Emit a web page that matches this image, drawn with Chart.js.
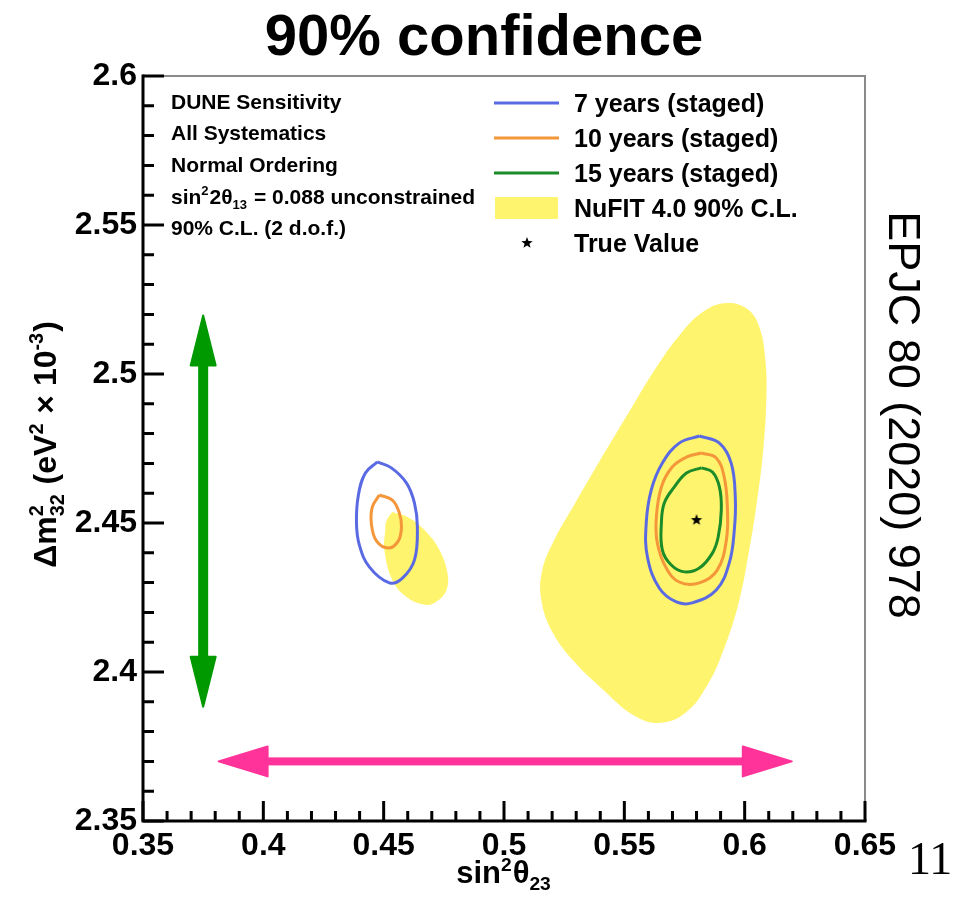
<!DOCTYPE html>
<html>
<head>
<meta charset="utf-8">
<title>DUNE sensitivity: sin²θ23 vs Δm²32</title>
<script src="https://cdn.jsdelivr.net/npm/chart.js@4.4.1/dist/chart.umd.min.js"></script>
<style>
  html, body { margin: 0; padding: 0; background: #ffffff; }
  canvas { display: block; }
</style>
</head>
<body>
<canvas id="chart" width="960" height="903"></canvas>
<script>
// ---- axis tick labels ----
const xTickLabels = ['0.35', '0.4', '0.45', '0.5', '0.55', '0.6', '0.65'];
const yTickLabels = ['2.35', '2.4', '2.45', '2.5', '2.55', '2.6'];

// ---- NuFIT 4.0 90% C.L. allowed regions: [sin²θ23, Δm²32 (10⁻³ eV²)] ----
const nufitUpperOctant = [
  [0.5512, 2.4862], [0.5625, 2.5013], [0.5737, 2.5138], [0.5832, 2.5211], [0.5924, 2.5238],
  [0.6011, 2.5218], [0.6061, 2.5158], [0.6086, 2.5047], [0.6090, 2.4913], [0.6077, 2.4745],
  [0.6052, 2.4577], [0.6019, 2.4409], [0.5978, 2.4242], [0.5920, 2.4091], [0.5845, 2.3956],
  [0.5753, 2.3862], [0.5645, 2.3829], [0.5537, 2.3856], [0.5413, 2.3940], [0.5292, 2.4034],
  [0.5201, 2.4134], [0.5155, 2.4242], [0.5159, 2.4342], [0.5209, 2.4443], [0.5296, 2.4567],
  [0.5400, 2.4711], [0.5512, 2.4862]
];
const nufitLowerOctant = [
  [0.4536, 2.4537], [0.4607, 2.4517], [0.4682, 2.4466], [0.4732, 2.4409], [0.4765, 2.4332],
  [0.4761, 2.4275], [0.4723, 2.4238], [0.4678, 2.4225], [0.4595, 2.4252], [0.4536, 2.4309],
  [0.4503, 2.4409], [0.4507, 2.4477], [0.4511, 2.4507], [0.4536, 2.4537]
];

// ---- DUNE staged-exposure 90% C.L. contours ----
const sevenYearsUpper = [
  [0.5812, 2.4792], [0.5895, 2.4768], [0.5944, 2.4701], [0.5961, 2.4587], [0.5957, 2.4477],
  [0.5936, 2.4366], [0.5882, 2.4275], [0.5782, 2.4232], [0.5716, 2.4235], [0.5645, 2.4282],
  [0.5596, 2.4386], [0.5591, 2.4500], [0.5612, 2.4611], [0.5658, 2.4701], [0.5728, 2.4768],
  [0.5812, 2.4792]
];
const sevenYearsLower = [
  [0.4474, 2.4705], [0.4532, 2.4685], [0.4595, 2.4634], [0.4628, 2.4567], [0.4640, 2.4487],
  [0.4628, 2.4376], [0.4578, 2.4315], [0.4524, 2.4299], [0.4441, 2.4352], [0.4399, 2.4426],
  [0.4387, 2.4500], [0.4395, 2.4594], [0.4424, 2.4668], [0.4474, 2.4705]
];
const tenYearsUpper = [
  [0.5820, 2.4735], [0.5882, 2.4718], [0.5915, 2.4654], [0.5928, 2.4554], [0.5924, 2.4443],
  [0.5886, 2.4342], [0.5812, 2.4299], [0.5728, 2.4302], [0.5674, 2.4349], [0.5637, 2.4433],
  [0.5633, 2.4520], [0.5654, 2.4621], [0.5699, 2.4688], [0.5758, 2.4721], [0.5820, 2.4735]
];
const tenYearsLower = [
  [0.4482, 2.4594], [0.4536, 2.4577], [0.4565, 2.4534], [0.4574, 2.4487], [0.4561, 2.4440],
  [0.4520, 2.4416], [0.4470, 2.4440], [0.4449, 2.4497], [0.4453, 2.4554], [0.4482, 2.4594]
];
const fifteenYears = [
  [0.5820, 2.4685], [0.5866, 2.4671], [0.5895, 2.4621], [0.5903, 2.4544], [0.5890, 2.4453],
  [0.5866, 2.4399], [0.5812, 2.4349], [0.5749, 2.4336], [0.5695, 2.4359], [0.5658, 2.4409],
  [0.5654, 2.4500], [0.5666, 2.4567], [0.5708, 2.4621], [0.5758, 2.4668], [0.5820, 2.4685]
];
const trueValue = [[0.580, 2.451]];

// ---- range arrows (data coordinates) ----
const dm32RangeArrow = [[0.375, 2.388], [0.375, 2.520]];
const th23RangeArrow = [[0.381, 2.370], [0.620, 2.370]];

// ---- legend / info text ----
const seriesLabels = ['7 years (staged)', '10 years (staged)', '15 years (staged)', 'NuFIT 4.0 90% C.L.', 'True Value'];
const infoLines = ['DUNE Sensitivity', 'All Systematics', 'Normal Ordering', 'SIN13', '90% C.L. (2 d.o.f.)'];

const COLORS = {
  blue: '#5a6ae2',
  orange: '#f4963a',
  green: '#1b8c29',
  yellow: '#fff46e',
  pink: '#ff3399',
  arrowGreen: '#009900',
  frame: '#8a8a8a'
};
const SANS = '"Liberation Sans", Arial, Helvetica, sans-serif';
const SERIF = '"Liberation Serif", "Times New Roman", serif';

const toPoints = arr => arr.map(([x, y]) => ({ x, y }));
const labelFor = (list, v) => list.find(t => Math.abs(parseFloat(t) - v) < 1e-6) || '';

function makeStar(r) {
  const c = document.createElement('canvas');
  c.width = c.height = 2 * r + 2;
  const g = c.getContext('2d');
  g.translate(r + 1, r + 1);
  g.beginPath();
  for (let k = 0; k < 10; k++) {
    const rad = k % 2 ? r * 0.42 : r;
    const a = -Math.PI / 2 + k * Math.PI / 5;
    g.lineTo(rad * Math.cos(a), rad * Math.sin(a));
  }
  g.closePath();
  g.fillStyle = '#000';
  g.fill();
  return c;
}
const starImg = makeStar(6);

function region(points) {
  return {
    data: toPoints(points), showLine: true, tension: 0.4,
    borderWidth: 0, borderColor: 'rgba(0,0,0,0)', backgroundColor: COLORS.yellow,
    fill: 'shape', pointRadius: 0, order: 10
  };
}
function contour(points, color) {
  return {
    data: toPoints(points), showLine: true, tension: 0.4,
    borderWidth: 3, borderColor: color, fill: false,
    pointRadius: 0, order: 5
  };
}

// ---- rich text helpers (super/subscripts) ----
function fnt(size, bold = true, family = SANS) { return (bold ? 'bold ' : '') + size + 'px ' + family; }
function partWidth(ctx, p, size) {
  const small = size * 0.62;
  if (p.t !== undefined) { ctx.font = fnt(size); return ctx.measureText(p.t).width; }
  ctx.font = fnt(small);
  const a = p.sup !== undefined ? ctx.measureText(p.sup).width : 0;
  const b = p.sub !== undefined ? ctx.measureText(p.sub).width : 0;
  return Math.max(a, b) + 1;
}
function drawRich(ctx, parts, x, y, size, align) {
  let total = 0;
  parts.forEach(p => { total += partWidth(ctx, p, size); });
  let cx = align === 'center' ? x - total / 2 : (align === 'right' ? x - total : x);
  ctx.textAlign = 'left';
  ctx.textBaseline = 'alphabetic';
  const small = size * 0.62;
  parts.forEach(p => {
    const w = partWidth(ctx, p, size);
    if (p.t !== undefined) {
      ctx.font = fnt(size);
      ctx.fillText(p.t, cx, y);
    } else {
      ctx.font = fnt(small);
      if (p.sup !== undefined) ctx.fillText(p.sup, cx, y - size * 0.40);
      if (p.sub !== undefined) ctx.fillText(p.sub, cx, y + size * 0.24);
    }
    cx += w;
  });
}

function drawArrow(ctx, x1, y1, x2, y2, color, shaft, headLen, headHalf) {
  const ang = Math.atan2(y2 - y1, x2 - x1);
  const len = Math.hypot(x2 - x1, y2 - y1);
  ctx.save();
  ctx.translate(x1, y1);
  ctx.rotate(ang);
  ctx.fillStyle = color;
  ctx.strokeStyle = color;
  ctx.lineJoin = 'round';
  ctx.lineWidth = 2;
  ctx.fillRect(headLen - 1, -shaft / 2, len - 2 * headLen + 2, shaft);
  ctx.beginPath();
  ctx.moveTo(1, 0); ctx.lineTo(headLen, -headHalf); ctx.lineTo(headLen, headHalf); ctx.closePath();
  ctx.fill(); ctx.stroke();
  ctx.beginPath();
  ctx.moveTo(len - 1, 0); ctx.lineTo(len - headLen, -headHalf); ctx.lineTo(len - headLen, headHalf); ctx.closePath();
  ctx.fill(); ctx.stroke();
  ctx.restore();
}

// ---- frame, ticks, annotations and text ----
const decorations = {
  id: 'decorations',
  afterDatasetsDraw(chart) {
    const ctx = chart.ctx;
    const xs = chart.scales.x, ys = chart.scales.y;
    const { left, right, top, bottom } = chart.chartArea;

    // range arrows
    drawArrow(ctx,
      xs.getPixelForValue(dm32RangeArrow[0][0]), ys.getPixelForValue(dm32RangeArrow[0][1]),
      xs.getPixelForValue(dm32RangeArrow[1][0]), ys.getPixelForValue(dm32RangeArrow[1][1]),
      COLORS.arrowGreen, 10, 51, 12.5);
    drawArrow(ctx,
      xs.getPixelForValue(th23RangeArrow[0][0]), ys.getPixelForValue(th23RangeArrow[0][1]),
      xs.getPixelForValue(th23RangeArrow[1][0]), ys.getPixelForValue(th23RangeArrow[1][1]),
      COLORS.pink, 8, 50, 15);

    ctx.save();
    // top and right borders
    ctx.strokeStyle = COLORS.frame;
    ctx.lineWidth = 2;
    ctx.beginPath();
    ctx.moveTo(left, top); ctx.lineTo(right, top); ctx.lineTo(right, bottom);
    ctx.stroke();

    // left and bottom axes
    ctx.strokeStyle = '#000';
    ctx.lineWidth = 3;
    ctx.lineCap = 'square';
    ctx.beginPath();
    ctx.moveTo(left, top); ctx.lineTo(left, bottom); ctx.lineTo(right, bottom);
    ctx.stroke();

    // inward ticks, minor every 0.01
    ctx.lineCap = 'butt';
    ctx.lineWidth = 3;
    ctx.beginPath();
    for (let i = 0; i <= 30; i++) {
      const px = xs.getPixelForValue(xs.min + i * 0.01);
      const len = i % 5 === 0 ? 20 : 10;
      ctx.moveTo(px, bottom); ctx.lineTo(px, bottom - len);
    }
    for (let i = 0; i <= 25; i++) {
      const py = ys.getPixelForValue(ys.min + i * 0.01);
      const len = i % 5 === 0 ? 21 : 11;
      ctx.moveTo(left, py); ctx.lineTo(left + len, py);
    }
    ctx.stroke();
    ctx.restore();
  },
  afterDraw(chart) {
    const ctx = chart.ctx;
    const { left, right, top, bottom } = chart.chartArea;
    ctx.save();
    ctx.fillStyle = '#000';

    // heading
    ctx.font = fnt(58);
    ctx.textAlign = 'center';
    ctx.textBaseline = 'alphabetic';
    ctx.fillText('90% confidence', 484, 55);

    // info block
    const infoY = [101, 132, 164, 196, 227];
    infoLines.forEach((line, i) => {
      if (line === 'SIN13') {
        drawRich(ctx, [{ t: 'sin' }, { sup: '2' }, { t: '2θ' }, { sub: '13' }, { t: ' = 0.088 unconstrained' }],
          171, infoY[i] + 7.5, 21, 'left');
      } else {
        ctx.font = fnt(21);
        ctx.textAlign = 'left';
        ctx.textBaseline = 'alphabetic';
        ctx.fillText(line, 171, infoY[i] + 7.5);
      }
    });

    // legend
    const legY = [103, 138, 173, 208, 243];
    const lineColors = [COLORS.blue, COLORS.orange, COLORS.green];
    ctx.lineWidth = 3;
    lineColors.forEach((c, i) => {
      ctx.strokeStyle = c;
      ctx.beginPath();
      ctx.moveTo(494, legY[i]); ctx.lineTo(559, legY[i]);
      ctx.stroke();
    });
    ctx.fillStyle = COLORS.yellow;
    ctx.fillRect(495, legY[3] - 11, 63, 22);
    ctx.drawImage(starImg, 527 - starImg.width / 2, legY[4] - starImg.height / 2);
    ctx.fillStyle = '#000';
    ctx.font = fnt(25);
    ctx.textAlign = 'left';
    ctx.textBaseline = 'alphabetic';
    seriesLabels.forEach((s, i) => ctx.fillText(s, 574, legY[i] + 9));

    // axis titles
    drawRich(ctx, [{ t: 'sin' }, { sup: '2' }, { t: 'θ' }, { sub: '23' }], (left + right) / 2, 883, 31, 'center');
    ctx.save();
    ctx.translate(56, (top + bottom) / 2 - 4);
    ctx.rotate(-Math.PI / 2);
    drawRich(ctx, [{ t: 'Δm' }, { sup: '2', sub: '32' }, { t: ' (eV' }, { sup: '2' }, { t: ' × 10' }, { sup: '-3' }, { t: ')' }],
      0, 0, 32, 'center');
    ctx.restore();

    // journal reference
    ctx.save();
    ctx.translate(889, 415);
    ctx.rotate(Math.PI / 2);
    ctx.font = fnt(45, false);
    ctx.textAlign = 'center';
    ctx.textBaseline = 'alphabetic';
    ctx.fillText('EPJC 80 (2020) 978', 0, 0);
    ctx.restore();

    // page number
    ctx.font = fnt(46, false, SERIF);
    ctx.textAlign = 'left';
    ctx.textBaseline = 'alphabetic';
    ctx.fillText('11', 908, 874);
    ctx.restore();
  }
};

new Chart(document.getElementById('chart').getContext('2d'), {
  type: 'scatter',
  data: {
    datasets: [
      region(nufitUpperOctant),
      region(nufitLowerOctant),
      contour(sevenYearsUpper, COLORS.blue),
      contour(sevenYearsLower, COLORS.blue),
      contour(tenYearsUpper, COLORS.orange),
      contour(tenYearsLower, COLORS.orange),
      contour(fifteenYears, COLORS.green),
      {
        data: toPoints(trueValue), showLine: false,
        pointStyle: starImg, pointRadius: 6, order: 0
      }
    ]
  },
  options: {
    responsive: false,
    animation: false,
    devicePixelRatio: 1,
    events: [],
    layout: { padding: { left: 0, right: 95, top: 76, bottom: 0 } },
    plugins: { legend: { display: false }, tooltip: { enabled: false }, title: { display: false } },
    scales: {
      x: {
        type: 'linear', min: 0.35, max: 0.65,
        afterFit(scale) { scale.height = 82; },
        grid: { display: false, drawTicks: false, tickLength: 0 },
        border: { display: false },
        ticks: {
          stepSize: 0.05, autoSkip: false, maxRotation: 0, minRotation: 0, padding: 6,
          color: '#000', font: { family: SANS, size: 32, weight: 'bold' },
          callback: v => labelFor(xTickLabels, v)
        }
      },
      y: {
        type: 'linear', min: 2.35, max: 2.6,
        afterFit(scale) { scale.width = 143; },
        grid: { display: false, drawTicks: false, tickLength: 0 },
        border: { display: false },
        ticks: {
          stepSize: 0.05, autoSkip: false, padding: 6,
          color: '#000', font: { family: SANS, size: 32, weight: 'bold' },
          callback: v => labelFor(yTickLabels, v)
        }
      }
    }
  },
  plugins: [decorations]
});
</script>
</body>
</html>
